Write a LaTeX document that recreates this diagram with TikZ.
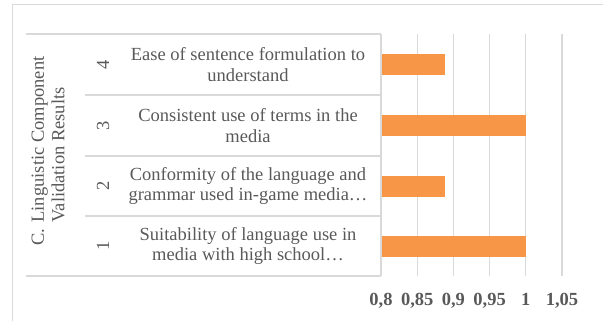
\documentclass[tikz,border=0pt]{standalone}
\usepackage{fontspec}
\setmainfont{Liberation Serif}
\usetikzlibrary{positioning}
\definecolor{txtgray}{HTML}{595959}
\definecolor{rulegray}{HTML}{D9D9D9}
\definecolor{barorange}{HTML}{F79646}

\begin{document}
\begin{tikzpicture}[x=1pt,y=-1pt,
	rule/.style={draw=rulegray,line width=1.2pt},
	lbl/.style={text=txtgray,inner sep=0pt,font=\fontsize{18.5}{20.5}\selectfont},
	ticklbl/.style={lbl,anchor=base,font=\fontsize{18.5}{20.5}\selectfont\bfseries},
	valbar/.style={fill=barorange,draw=none}]
	\useasboundingbox (0,0) rectangle (603,321);
	\begin{scope}
		\clip (0,0) rectangle (603,321);
		\draw[rulegray,line width=1.5pt] (12.5,4.5) rectangle (640,360);
	\end{scope}
	% value axis
	\foreach \i in {1,...,5}
		\draw[rule] (381+36.2*\i,276) -- (381+36.2*\i,34);
	\foreach \t [count=\i from 0] in {{0,8},{0,85},{0,9},{0,95},1,{1,05}}
		\node[ticklbl] (t\i) at (381+36.2*\i,305) {\t};
	% rows
	\foreach \n/\v/\yc/\txt in {
		4/0.889/64.5/{Ease of sentence formulation to\\understand},
		3/1/125.5/{Consistent use of terms in the\\media},
		2/0.889/186/{Conformity of the language and\\grammar used in-game media\dots},
		1/1/246/{Suitability of language use in\\media with high school\dots}} {
		\fill[valbar] (382,\yc-10.5) rectangle ({381+(\v-0.8)*724},\yc+10.5);
		\node[lbl,rotate=90] (num\n) at (103,\yc) {\n};
		\node[lbl,align=center] (item\n) at (248,\yc) {\txt};
	}
	\node[lbl,rotate=90] (cat) at (50,151) {\begin{tabular}{@{}l@{\hspace{6pt}}l@{}}C. & Linguistic Component\\ & Validation Results\end{tabular}};
	% table rules
	\draw[rule] (26,34) -- (381,34);
	\draw[rule] (26,276) -- (381,276);
	\foreach \y in {95,156,216} \draw[rule] (85,\y) -- (381,\y);
	\draw[rule] (381,34) -- (381,276);
\end{tikzpicture}
\end{document}
